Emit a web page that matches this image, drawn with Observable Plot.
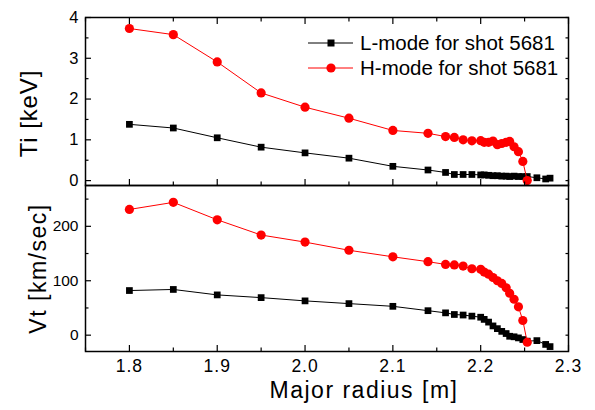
<!DOCTYPE html>
<html><head><meta charset="utf-8">
<script src="https://cdn.jsdelivr.net/npm/d3@7"></script>
<script src="https://cdn.jsdelivr.net/npm/@observablehq/plot@0.6"></script>
<style>
body{margin:0;background:#fff;}
#chart{position:relative;width:595px;height:410px;font-family:"Liberation Sans",Arial,sans-serif;}
#chart > svg{position:absolute;left:0;overflow:visible;}
</style></head><body><div id="chart"></div>
<script>
// ---- data ----
const seriesNames = ["L-mode for shot 5681", "H-mode for shot 5681"];
const seriesColors = ["#000000", "#ff0000"];
const radiusH = [1.80,1.85,1.90,1.95,2.00,2.05,2.10,2.14,2.16,2.17,2.18,2.19,2.20,2.204,2.209,2.214,2.219,2.224,2.229,2.233,2.238,2.243,2.248,2.253];
const radiusL = [1.80,1.85,1.90,1.95,2.00,2.05,2.10,2.14,2.16,2.17,2.18,2.19,2.20,2.204,2.209,2.214,2.219,2.224,2.229,2.233,2.238,2.243,2.248,2.253,2.264,2.274,2.279];
const tiH = [3.73,3.58,2.91,2.15,1.80,1.53,1.23,1.16,1.08,1.06,1.00,0.975,0.98,0.94,0.94,0.97,0.88,0.91,0.94,0.96,0.83,0.71,0.47,0.0];
const vtH = [231,244,212,184,171,156,144,135,130,129,127,122,121,116,112,106,100,95,87,77,66,52,27,-13];
const tiL = [1.38,1.29,1.05,0.82,0.68,0.55,0.35,0.26,0.20,0.15,0.15,0.15,0.14,0.14,0.13,0.12,0.12,0.11,0.11,0.10,0.11,0.10,0.10,0.10,0.07,0.04,0.06];
const vtL = [82,84,74,69,63,58,53,45,41,38,37,35,33,29,24,17,12,7,3,-2,-3,-5,-8,-11,-10,-17,-21];
const xTicks = [1.8,1.9,2.0,2.1,2.2,2.3];
const xMinor = [1.75,1.85,1.95,2.05,2.15,2.25];
const tiTicks = [0,1,2,3,4];
const tiMinor = [0.5,1.5,2.5,3.5];
const vtTicks = [0,100,200];
const vtMinor = [50,150,250];
const xLabel = "Major radius [m]";
const tiLabel = "Ti [keV]";
const vtLabel = "Vt [km/sec]";

const L = radiusL.map((r,i)=>({r, ti: tiL[i], vt: vtL[i]}));
const H = radiusH.map((r,i)=>({r, ti: tiH[i], vt: vtH[i]}));

const W = 595, ML = 85, MR = 27;
const MAJ = 6, MIN = 3.5;
const font = '"Liberation Sans", Arial, sans-serif';

function inwardTicks(yMaj, yMin, withTop) {
  const m = [
    Plot.axisX(xTicks, {anchor:"bottom", tickSize:-MAJ, tickFormat:()=>"", label:null, strokeWidth:1.2}),
    Plot.axisX(xMinor, {anchor:"bottom", tickSize:-MIN, tickFormat:()=>"", label:null, strokeWidth:1.2}),
    Plot.axisY(yMaj, {anchor:"left", tickSize:-MAJ, tickFormat:()=>"", label:null, strokeWidth:1.2}),
    Plot.axisY(yMin, {anchor:"left", tickSize:-MIN, tickFormat:()=>"", label:null, strokeWidth:1.2}),
    Plot.axisY(yMaj, {anchor:"right", tickSize:-MIN, tickFormat:()=>"", label:null, strokeWidth:1.2}),
    Plot.axisY(yMin, {anchor:"right", tickSize:-MIN, tickFormat:()=>"", label:null, strokeWidth:1.2})
  ];
  if (withTop) {
    m.push(Plot.axisX(xTicks, {anchor:"top", tickSize:-MAJ, tickFormat:()=>"", label:null, strokeWidth:1.2}));
    m.push(Plot.axisX(xMinor, {anchor:"top", tickSize:-MIN, tickFormat:()=>"", label:null, strokeWidth:1.2}));
  }
  return m;
}

function series(key) {
  return [
    Plot.line(L, {x:"r", y:key, stroke:seriesColors[0], strokeWidth:1}),
    Plot.dot(L, {x:"r", y:key, symbol:"square", fill:seriesColors[0], r:3.8}),
    Plot.line(H, {x:"r", y:key, stroke:seriesColors[1], strokeWidth:1}),
    Plot.dot(H, {x:"r", y:key, symbol:"circle", fill:seriesColors[1], r:4.6})
  ];
}

const topPlot = Plot.plot({
  width: W, height: 186, marginLeft: ML, marginRight: MR, marginTop: 17, marginBottom: 1,
  style: {fontFamily: font, fontSize: "16px", color: "#000", background: "transparent", overflow: "visible"},
  x: {domain: [1.75, 2.3]},
  y: {domain: [-0.12, 4]},
  marks: [
    ...series("ti"),
    ...inwardTicks(tiTicks, tiMinor, true),
    Plot.axisY(tiTicks, {anchor:"left", tickSize:0, tickPadding:7, label:null, tickFormat: d3.format("d"), fontSize:16.5}),
    Plot.text([tiLabel], {frameAnchor:"left", dx:-56, dy:12, rotate:-90, fontSize:24, textAnchor:"middle", style:"letter-spacing:0.8px"}),
    Plot.frame({stroke:"#000", strokeWidth:1.5})
  ]
});
topPlot.style.top = "0px";

const bottomPlot = Plot.plot({
  width: W, height: 226, marginLeft: ML, marginRight: MR, marginTop: 1, marginBottom: 59,
  style: {fontFamily: font, fontSize: "16px", color: "#000", background: "transparent", overflow: "visible"},
  x: {domain: [1.75, 2.3]},
  y: {domain: [-30, 275]},
  marks: [
    ...series("vt"),
    ...inwardTicks(vtTicks, vtMinor, false),
    Plot.axisY(vtTicks, {anchor:"left", tickSize:0, tickPadding:7, label:null, tickFormat: d3.format("d"), fontSize:15.5}),
    Plot.axisX(xTicks, {anchor:"bottom", tickSize:0, tickPadding:8, label:null, tickFormat: d3.format(".1f"), fontSize:17.5}),
    Plot.text([vtLabel], {frameAnchor:"left", dx:-47, rotate:-90, fontSize:23, textAnchor:"middle"}),
    Plot.text([xLabel], {frameAnchor:"bottom", dx:37, dy:46, fontSize:23, textAnchor:"middle"}),
    Plot.frame({stroke:"#000", strokeWidth:1.5})
  ]
});
bottomPlot.style.top = "184px";

const chart = document.getElementById("chart");
chart.append(topPlot, bottomPlot);

// widen letter spacing of labels/ticks to match reference glyph widths
d3.select(bottomPlot).selectAll("[aria-label='x-axis tick label'] text").style("letter-spacing","1px");
d3.select(bottomPlot).selectAll("[aria-label='text'] text").style("letter-spacing","1.5px");
d3.select(topPlot).selectAll("[aria-label='text'] text").style("letter-spacing","0.9px");

// legend (overlay inside the upper panel)
const leg = d3.select(chart).append("svg")
  .attr("width", 270).attr("height", 60)
  .style("position","absolute").style("left","300px").style("top","28px")
  .style("font-family", font);
const row = leg.selectAll("g").data(seriesNames).join("g")
  .attr("transform", (d,i)=>`translate(0,${15 + i*25})`);
row.append("line").attr("x1",8).attr("x2",53).attr("stroke",(d,i)=>seriesColors[i]).attr("stroke-width",1);
row.each(function(d,i){
  const g = d3.select(this);
  if (i === 0) g.append("rect").attr("x",27.5).attr("y",-3.5).attr("width",7).attr("height",7).attr("fill",seriesColors[i]);
  else g.append("circle").attr("cx",31).attr("cy",0).attr("r",4.6).attr("fill",seriesColors[i]);
});
row.append("text").attr("x",60).attr("dy","0.35em").attr("font-size",20.5).attr("fill","#000").text(d=>d);
</script></body></html>
